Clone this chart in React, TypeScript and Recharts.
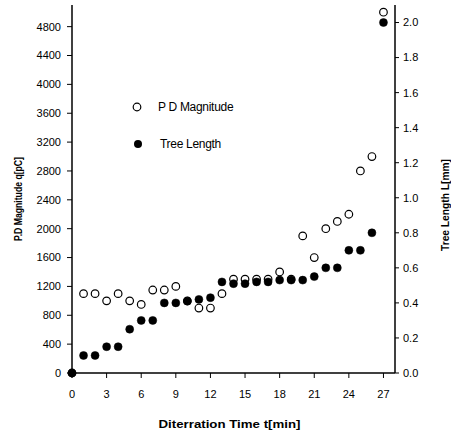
import { ScatterChart, Scatter, XAxis, YAxis, Legend, Label } from 'recharts'

// oxidation time t [min]
const times = [0, 1, 2, 3, 4, 5, 6, 7, 8, 9, 10, 11, 12, 13, 14, 15, 16, 17, 18, 19, 20, 21, 22, 23, 24, 25, 26, 27]
// P.D magnitude q [pC] (left axis)
const pdMagnitude = [0, 1100, 1100, 1000, 1100, 1000, 950, 1150, 1150, 1200, 1000, 900, 900, 1100, 1300, 1300, 1300, 1300, 1400, 1300, 1900, 1600, 2000, 2100, 2200, 2800, 3000, 5000]
// tree length L [mm] (right axis)
const treeLength = [0, 0.1, 0.1, 0.15, 0.15, 0.25, 0.3, 0.3, 0.4, 0.4, 0.41, 0.42, 0.43, 0.52, 0.51, 0.51, 0.52, 0.52, 0.53, 0.53, 0.53, 0.55, 0.6, 0.6, 0.7, 0.7, 0.8, 2.0]

const xTicks = [0, 3, 6, 9, 12, 15, 18, 21, 24, 27]
const leftTicks = [0, 400, 800, 1200, 1600, 2000, 2400, 2800, 3200, 3600, 4000, 4400, 4800]
const rightTicks = [0, 0.2, 0.4, 0.6, 0.8, 1.0, 1.2, 1.4, 1.6, 1.8, 2.0]

const pdData = times.map((t, i) => ({ t, v: pdMagnitude[i] }))
const lenData = times.map((t, i) => ({ t, v: treeLength[i] }))

const FONT = '"Liberation Sans", Arial, sans-serif'
const tickStyle = { fontSize: 11, fill: '#000', fontFamily: FONT }
const axisStroke = { stroke: '#000', strokeWidth: 1.5 }

const OpenDot = (p: any) => <circle cx={p.cx} cy={p.cy} r={3.8} fill="#fff" stroke="#000" strokeWidth={1.2} />
const FilledDot = (p: any) => <circle cx={p.cx} cy={p.cy} r={4} fill="#000" stroke="#000" strokeWidth={0.5} />

const LegendBox = () => (
  <div style={{ fontFamily: FONT, fontSize: 12, color: '#000', letterSpacing: -0.3 }}>
    <div style={{ display: 'flex', alignItems: 'center', height: 16 }}>
      <svg width={27} height={12}><circle cx={6} cy={6} r={3.8} fill="#fff" stroke="#000" strokeWidth={1.2} /></svg>
      <span>P D Magnitude</span>
    </div>
    <div style={{ display: 'flex', alignItems: 'center', height: 16, marginTop: 21 }}>
      <svg width={29} height={12}><circle cx={7} cy={6} r={4} fill="#000" /></svg>
      <span>Tree Length</span>
    </div>
  </div>
)

export default function App() {
  return (
    <div style={{ position: 'absolute', left: 0, top: 0, background: '#fff' }}>
      <ScatterChart width={451} height={434} margin={{ top: 5, right: 0, bottom: 0, left: 0 }}>
        <XAxis xAxisId="top" orientation="top" type="number" dataKey="t" domain={[0, 28]}
          tick={false} tickLine={false} height={0} axisLine={axisStroke} />
        <XAxis type="number" dataKey="t" domain={[0, 28]} ticks={xTicks} height={61}
          tick={tickStyle} tickSize={5} tickMargin={12} axisLine={axisStroke} tickLine={{ stroke: '#000' }}>
          <Label content={(props: any) => {
            const vb = props.viewBox
            return (
              <text x={vb.x + vb.width / 2 - 4} y={vb.y + 55} textAnchor="middle" fontFamily={FONT}
                fontSize={11} fontWeight="bold" textLength={142} lengthAdjust="spacingAndGlyphs">
                Diterration  Time t[min]
              </text>
            )
          }} />
        </XAxis>
        <YAxis yAxisId="l" type="number" dataKey="v" domain={[0, 5100]} ticks={leftTicks} width={72}
          tick={tickStyle} tickSize={5} tickMargin={6} axisLine={axisStroke} tickLine={{ stroke: '#000' }}>
          <Label content={(props: any) => {
            const vb = props.viewBox
            const cx = vb.x + 18
            const cy = vb.y + vb.height / 2 + 10
            return (
              <text x={cx} y={cy} transform={`rotate(-90 ${cx} ${cy})`} textAnchor="middle" dominantBaseline="central"
                fontFamily={FONT} fontSize={11} fontWeight="bold" textLength={84} lengthAdjust="spacingAndGlyphs">
                P.D Magnitude q[pC]
              </text>
            )
          }} />
        </YAxis>
        <YAxis yAxisId="r" orientation="right" type="number" dataKey="v" domain={[0, 2.1]} ticks={rightTicks} width={56}
          tickFormatter={(v: number) => v.toFixed(1)}
          tick={tickStyle} tickSize={4} tickMargin={4} axisLine={axisStroke} tickLine={{ stroke: '#000' }}>
          <Label content={(props: any) => {
            const vb = props.viewBox
            const cx = vb.x + 50
            const cy = vb.y + vb.height / 2 + 16
            return (
              <text x={cx} y={cy} transform={`rotate(-90 ${cx} ${cy})`} textAnchor="middle" dominantBaseline="central"
                fontFamily={FONT} fontSize={11} fontWeight="bold" textLength={92} lengthAdjust="spacingAndGlyphs">
                Tree Length L[mm]
              </text>
            )
          }} />
        </YAxis>
        <Legend layout="vertical" align="center" verticalAlign="middle" content={() => <LegendBox />}
          wrapperStyle={{ left: 131, top: 99, width: 'auto' }} />
        <Scatter name="P D Magnitude" data={pdData} yAxisId="l" shape={OpenDot} isAnimationActive={false} />
        <Scatter name="Tree Length" data={lenData} yAxisId="r" shape={FilledDot} isAnimationActive={false} />
      </ScatterChart>
    </div>
  )
}
